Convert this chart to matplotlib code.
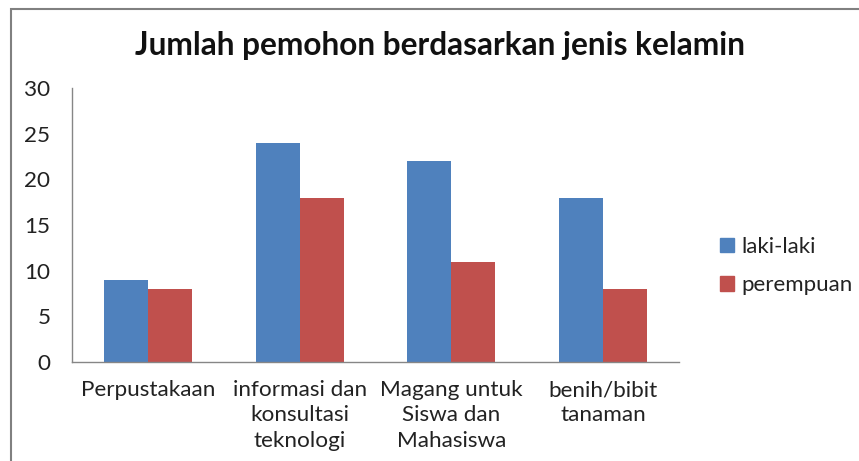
import matplotlib
matplotlib.use("Agg")
import matplotlib.pyplot as plt
from matplotlib.patches import Rectangle, Patch
import numpy as np

categories = ["Perpustakaan", "informasi dan\nkonsultasi\nteknologi",
              "Magang untuk\nSiswa dan\nMahasiswa", "benih/bibit\ntanaman"]
laki = [9, 24, 22, 18]
perempuan = [8, 18, 11, 8]
series_names = ["laki-laki", "perempuan"]
yticks = [0, 5, 10, 15, 20, 25, 30]

plt.rcParams['font.family'] = ['Lato', 'DejaVu Sans']

W, H = 859, 461
fig = plt.figure(figsize=(W/100, H/100), dpi=100)
ax = fig.add_axes([72/W, (H-362)/H, (679-72)/W, (362-88)/H])

x = np.arange(len(categories))
bw = 0.29
ax.bar(x - bw/2, laki, bw, color='#4F81BD', label=series_names[0])
ax.bar(x + bw/2, perempuan, bw, color='#C0504D', label=series_names[1])

ax.set_xlim(-0.5, len(categories) - 0.5)
ax.set_ylim(0, 30)
ax.set_yticks(yticks)
ax.set_xticks(x)
ax.set_xticklabels(categories, fontsize=16.2, linespacing=1.33, color='#222222')
ax.tick_params(axis='y', labelsize=16.2, length=0, pad=15.5, labelcolor='#222222')
ax.tick_params(axis='x', length=0, pad=13)
for s in ['top', 'right']:
    ax.spines[s].set_visible(False)
for s in ['left', 'bottom']:
    ax.spines[s].set_color('#868686')
    ax.spines[s].set_linewidth(1)

fig.text(440/W, 1 - 45/H, "Jumlah pemohon berdasarkan jenis kelamin",
         ha='center', va='center', fontsize=22.8, fontweight='bold', color='#111111')

handles = [Patch(color='#4F81BD'), Patch(color='#C0504D')]
fig.legend(handles, series_names, loc='center left',
           bbox_to_anchor=(700/W, 1 - 266/H), frameon=False, fontsize=16,
           handlelength=0.62, handleheight=0.62, handletextpad=0.35,
           labelspacing=0.85, labelcolor='#222222')

fig.patches.append(Rectangle((10.5/W, -0.1), 1.2, 1 - 9.5/H + 0.1,
                             transform=fig.transFigure, fill=False,
                             edgecolor='#808080', linewidth=1.5))

fig.savefig("out.png", dpi=100)
